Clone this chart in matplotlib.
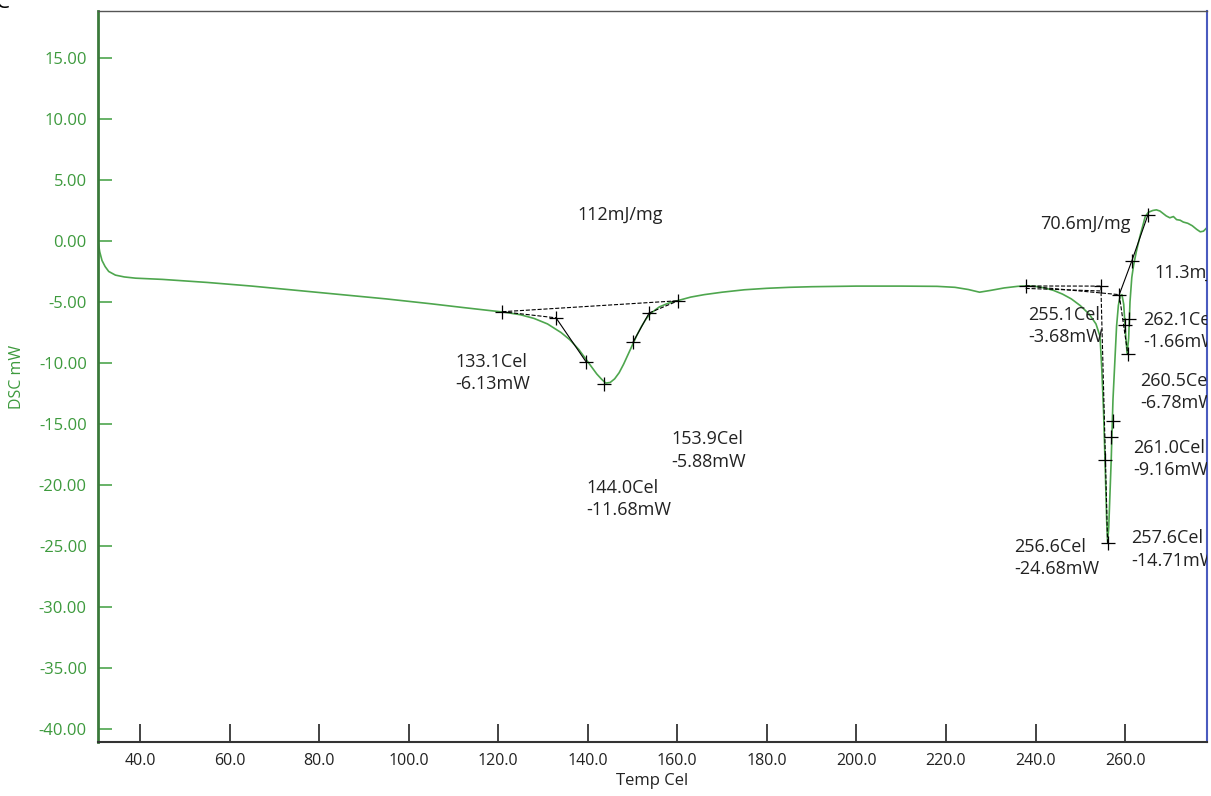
import matplotlib
matplotlib.use("Agg")
import matplotlib.pyplot as plt
from matplotlib.ticker import FormatStrFormatter

plt.rcParams['font.family'] = ['Open Sans', 'DejaVu Sans']

# DSC curve
temp = [30.6, 31.0, 31.5, 32.2, 33.0, 34.5, 36.5, 39, 45, 55, 65, 75, 85, 95, 105,
        112, 118, 121, 125, 128, 131, 134, 136, 138, 140, 142, 143, 144, 145, 146,
        147, 148, 149, 150, 151, 152, 153, 154, 156, 158, 160, 163, 166, 170, 175,
        180, 185, 190, 200, 210, 218, 222, 225, 227.5, 230, 233, 236, 238, 240, 242,
        244, 246, 248, 250, 252, 253.5, 254.4, 254.8, 255.2, 255.6, 255.9, 256.1,
        256.35, 256.6, 256.9, 257.3, 257.7, 258.1, 258.5, 258.9, 259.3, 259.7,
        260.0, 260.45, 260.8, 261.1, 261.5, 261.9, 262.5, 263.3, 264.0, 264.5,
        265.2, 266.2, 267.0, 267.8, 268.5, 269.2, 270.0, 270.8, 271.5, 272.3,
        273.0, 274.0, 275.0, 276.0, 276.8, 277.5, 278.3]
dsc = [0.0, -0.9, -1.6, -2.1, -2.5, -2.8, -2.95, -3.05, -3.15, -3.4, -3.7, -4.05,
       -4.4, -4.75, -5.15, -5.45, -5.7, -5.82, -6.05, -6.35, -6.8, -7.5, -8.1, -8.9,
       -9.9, -10.9, -11.3, -11.65, -11.6, -11.3, -10.8, -10.1, -9.3, -8.5, -7.7,
       -7.0, -6.4, -5.95, -5.4, -5.1, -4.9, -4.6, -4.4, -4.2, -4.0, -3.88, -3.8,
       -3.75, -3.7, -3.7, -3.72, -3.8, -3.98, -4.2, -4.05, -3.85, -3.72, -3.68,
       -3.72, -3.85, -4.05, -4.35, -4.75, -5.3, -6.0, -6.8, -7.8, -10.5, -14.0,
       -19.0, -23.0, -24.7, -23.5, -21.0, -18.0, -13.0, -10.0, -7.0, -5.3, -4.5,
       -4.4, -5.2, -7.0, -9.2, -8.0, -5.0, -3.0, -2.0, -0.9, 0.35, 1.3, 2.0, 2.35,
       2.5, 2.55, 2.45, 2.25, 2.05, 1.9, 2.0, 1.75, 1.7, 1.55, 1.45, 1.25, 0.95,
       0.75, 0.8, 1.1]

# analysis markers (temperature, mW)
peak1_marks_t = [120.9, 132.9, 139.6, 143.6, 150.1, 153.7, 160.2]
peak1_marks_y = [-5.8, -6.3, -9.9, -11.7, -8.3, -5.9, -4.9]
peak2_marks_t = [237.8, 254.6, 255.5, 256.1, 256.9, 257.2, 258.7, 260.0, 260.8, 260.6, 261.5, 265.1]
peak2_marks_y = [-3.69, -3.7, -17.95, -24.75, -16.1, -14.75, -4.4, -6.9, -6.4, -9.26, -1.64, 2.13]

labels = [
    (137.6, 2.13, "112mJ/mg"),
    (110.4, -10.82, "133.1Cel\n-6.13mW"),
    (158.6, -17.17, "153.9Cel\n-5.88mW"),
    (139.6, -21.15, "144.0Cel\n-11.68mW"),
    (241.0, 1.39, "70.6mJ/mg"),
    (266.5, -2.62, "11.3mJ/mg"),
    (238.3, -6.97, "255.1Cel\n-3.68mW"),
    (264.0, -7.38, "262.1Cel\n-1.66mW"),
    (263.4, -12.38, "260.5Cel\n-6.78mW"),
    (261.8, -17.87, "261.0Cel\n-9.16mW"),
    (261.35, -25.29, "257.6Cel\n-14.71mW"),
    (235.2, -25.98, "256.6Cel\n-24.68mW"),
]

green = "#4ea64e"
dark_green = "#3b7a3b"

fig = plt.figure(figsize=(12.11, 7.96), dpi=100)
ax = fig.add_axes([0.0809, 0.0678, 0.9158, 0.9184])

ax.plot(temp, dsc, color=green, lw=1.2, zorder=2)

# baselines / tangents
k = dict(color="black", lw=0.8, zorder=3)
ax.plot([peak1_marks_t[0], peak1_marks_t[6]], [peak1_marks_y[0], peak1_marks_y[6]], ls="--", **k)
ax.plot([peak1_marks_t[0], peak1_marks_t[1]], [peak1_marks_y[0], peak1_marks_y[1]], ls="--", **k)
ax.plot(peak1_marks_t[1:3], peak1_marks_y[1:3], ls="-", **k)
ax.plot(peak1_marks_t[4:6], peak1_marks_y[4:6], ls="-", **k)
ax.plot(peak1_marks_t[5:7], peak1_marks_y[5:7], ls="--", **k)

ax.plot([peak2_marks_t[0], peak2_marks_t[1]], [peak2_marks_y[0], peak2_marks_y[1]], ls="--", **k)
ax.plot([peak2_marks_t[0], peak2_marks_t[6]], [peak2_marks_y[0], peak2_marks_y[6]], ls="--", **k)
ax.plot([peak2_marks_t[0], peak2_marks_t[1]], [peak2_marks_y[0] - 0.2, peak2_marks_y[1] - 0.4], ls="--", **k)
ax.plot([peak2_marks_t[1], peak2_marks_t[3]], [peak2_marks_y[1], peak2_marks_y[3]], ls="--", **k)
ax.plot([peak2_marks_t[6], peak2_marks_t[9]], [peak2_marks_y[6], peak2_marks_y[9]], ls="--", **k)
ax.plot([peak2_marks_t[6], peak2_marks_t[10], peak2_marks_t[11]],
        [peak2_marks_y[6], peak2_marks_y[10], peak2_marks_y[11]], ls="-", **k)

ax.plot(peak1_marks_t, peak1_marks_y, ls="none", marker="+", ms=10, mew=0.9, color="black", zorder=4)
ax.plot(peak2_marks_t, peak2_marks_y, ls="none", marker="+", ms=10, mew=0.9, color="black", zorder=4)

for x, y, s in labels:
    ax.text(x, y, s, fontsize=13, color="#222222", ha="left", va="center",
            linespacing=1.3, clip_on=True)

ax.set_xlim(30.6, 278.3)
ax.set_ylim(-41.07, 18.85)
ax.set_xticks(range(40, 261, 20))
ax.set_yticks(range(-40, 16, 5))
ax.xaxis.set_major_formatter(FormatStrFormatter("%.1f"))
ax.yaxis.set_major_formatter(FormatStrFormatter("%.2f"))

ax.tick_params(axis="x", direction="in", length=13, width=1.2, colors="#222222",
               labelsize=11.5, pad=8)
ax.tick_params(axis="y", direction="in", length=10, width=1.2, color=green,
               labelcolor="#3d9a3d", labelsize=12, pad=8)

ax.spines["left"].set_color(dark_green)
ax.spines["left"].set_linewidth(2)
ax.spines["bottom"].set_color("#333333")
ax.spines["bottom"].set_linewidth(1.5)
ax.spines["top"].set_color("#555555")
ax.spines["top"].set_linewidth(1.0)
ax.spines["right"].set_color("#4a5bbf")
ax.spines["right"].set_linewidth(1.5)

ax.set_xlabel("Temp Cel", fontsize=12, color="#222222", labelpad=3)
ax.set_ylabel("DSC mW", fontsize=11.5, color="#3d9a3d", labelpad=10)

fig.text(-0.004, 0.997, "C", fontsize=16, color="black", ha="left", va="center")

fig.savefig("out.png", dpi=100)
